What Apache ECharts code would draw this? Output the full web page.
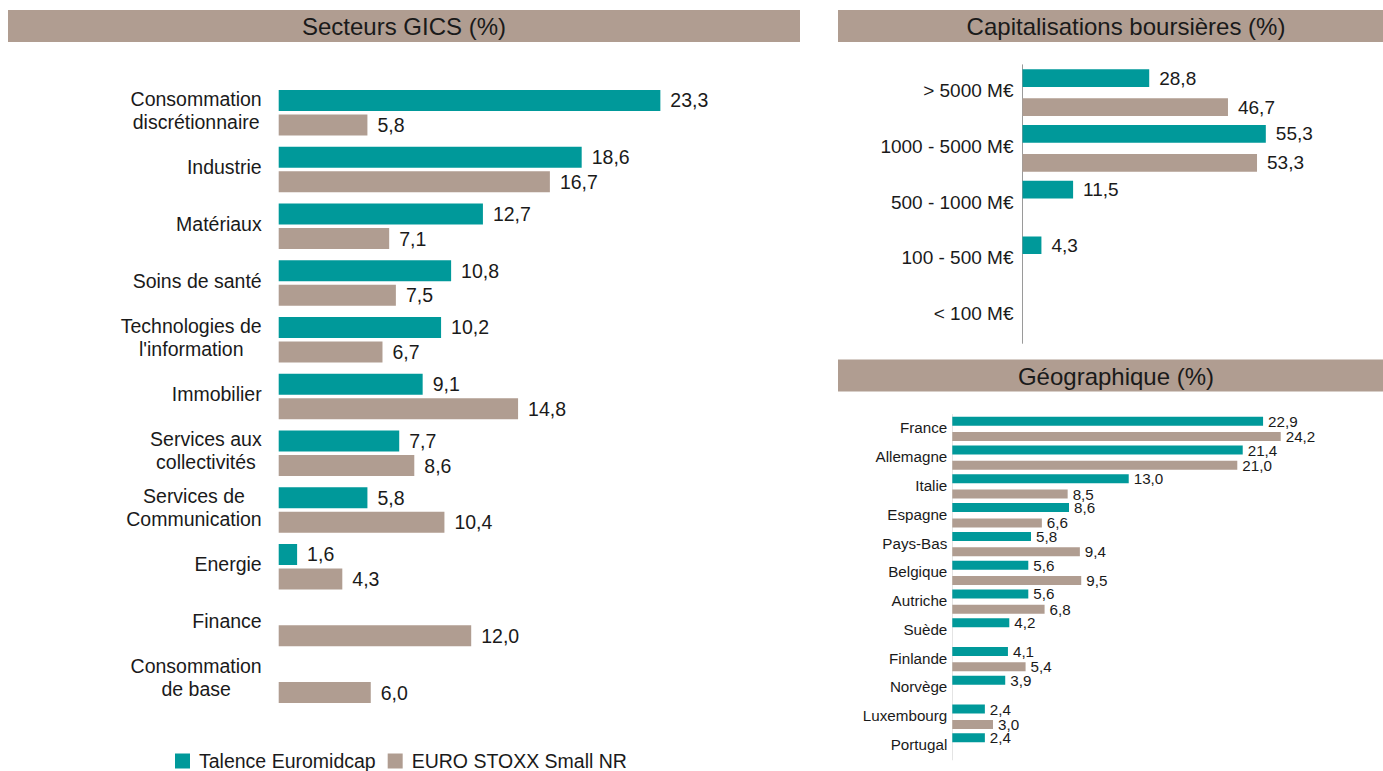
<!DOCTYPE html>
<html><head><meta charset="utf-8">
<script src="https://cdn.jsdelivr.net/npm/echarts@6/dist/echarts.min.js"></script>
<style>html,body{margin:0;padding:0;background:#fff;}#c{width:1383px;height:771px;}</style>
</head><body><div id="c"></div>
<script>
// ---- data ----
const seriesNames = ['Talence Euromidcap', 'EURO STOXX Small NR'];

const sectors = ['Consommation\ndiscrétionnaire', 'Industrie', 'Matériaux', 'Soins de santé',
  "Technologies de\nl'information", 'Immobilier', 'Services aux\ncollectivités',
  'Services de\nCommunication', 'Energie', 'Finance', 'Consommation\nde base'];
const sectorFund  = [23.3, 18.6, 12.7, 10.8, 10.2, 9.1, 7.7, 5.8, 1.6, null, null];
const sectorIndex = [5.8, 16.7, 7.1, 7.5, 6.7, 14.8, 8.6, 10.4, 4.3, 12.0, 6.0];

const caps = ['> 5000 M€', '1000 - 5000 M€', '500 - 1000 M€', '100 - 500 M€', '< 100 M€'];
const capFund  = [28.8, 55.3, 11.5, 4.3, null];
const capIndex = [46.7, 53.3, null, null, null];

const countries = ['France', 'Allemagne', 'Italie', 'Espagne', 'Pays-Bas', 'Belgique', 'Autriche',
  'Suède', 'Finlande', 'Norvège', 'Luxembourg', 'Portugal'];
const geoFund  = [22.9, 21.4, 13.0, 8.6, 5.8, 5.6, 5.6, 4.2, 4.1, 3.9, 2.4, 2.4];
const geoIndex = [24.2, 21.0, 8.5, 6.6, 9.4, 9.5, 6.8, null, 5.4, null, 3.0, null];

const panelTitles = ['Secteurs GICS (%)', 'Capitalisations boursières (%)', 'Géographique (%)'];

// ---- style ----
const TEAL = '#00999A', TAN = '#B09D91', INK = '#1a1a1a';
const FONT = "'Liberation Sans', Arial, sans-serif";
const fmt = p => (p.value == null ? '' : Number(p.value).toFixed(1).replace('.', ','));
function catLabel(v) {
  if (v.indexOf('\n') < 0) return v;
  return v.split('\n').map(s => '{c|' + s + '}').join('\n');
}

function catAxis(grid, data, size, margin, pad, line) {
  return {
    gridIndex: grid, type: 'category', data: data, inverse: true,
    axisLine: line ? { show: true, lineStyle: { color: line, width: 1 } } : { show: false },
    axisTick: { show: false },
    axisLabel: {
      margin: margin, fontSize: size, color: INK, fontFamily: FONT, lineHeight: size * 1.18,
      padding: [0, 0, pad, 0], formatter: catLabel,
      rich: { c: { align: 'center', fontSize: size, color: INK, fontFamily: FONT, lineHeight: size * 1.18 } }
    }
  };
}
function barSeries(name, idx, data, color, bw, gap, size, dist) {
  return {
    type: 'bar', name: name, xAxisIndex: idx, yAxisIndex: idx, data: data,
    barWidth: bw, barGap: gap, itemStyle: { color: color },
    label: { show: true, position: 'right', distance: dist, formatter: fmt,
      fontSize: size, color: INK, fontFamily: FONT }
  };
}
function titleBar(x, y, w, h, cx, text) {
  return [
    { type: 'rect', silent: true, shape: { x: x, y: y, width: w, height: h }, style: { fill: TAN } },
    { type: 'text', silent: true, x: cx, y: y + h / 2 + 0.5,
      style: { text: text, fontSize: 24, fontFamily: FONT, fill: INK, align: 'center', verticalAlign: 'middle' } }
  ];
}

const chart = echarts.init(document.getElementById('c'), null, { renderer: 'svg' });
chart.setOption({
  animation: false,
  backgroundColor: '#fff',
  textStyle: { fontFamily: FONT },
  graphic: [].concat(
    titleBar(8, 10, 792, 32, 404, panelTitles[0]),
    titleBar(838, 10, 545, 32, 1126, panelTitles[1]),
    titleBar(838, 359.5, 545, 32, 1116, panelTitles[2])
  ),
  legend: {
    data: seriesNames, left: 175, top: 751, padding: 0, icon: 'rect',
    itemWidth: 15, itemHeight: 15, itemGap: 12,
    textStyle: { fontSize: 19.5, color: INK, fontFamily: FONT, padding: [0, 0, 0, 4] }
  },
  grid: [
    { left: 278.7, top: 84.4, width: 527.3, height: 624.25 },
    { left: 1022.5, top: 64.8, width: 352, height: 278.5 },
    { left: 952.3, top: 414.5, width: 420.7, height: 345.4 }
  ],
  xAxis: [
    { gridIndex: 0, type: 'value', min: 0.5, max: 32, show: false },
    { gridIndex: 1, type: 'value', min: 0, max: 80, show: false },
    { gridIndex: 2, type: 'value', min: 0, max: 31, show: false }
  ],
  yAxis: [
    catAxis(0, sectors, 19.5, 17, 5, null),
    catAxis(1, caps, 19, 9, 4, '#9a9a9a'),
    catAxis(2, countries, 15.2, 5, 2, '#e4e4e4')
  ],
  series: [
    barSeries(seriesNames[0], 0, sectorFund, TEAL, 21, '17%', 19.5, 10),
    barSeries(seriesNames[1], 0, sectorIndex, TAN, 21, '17%', 19.5, 10),
    barSeries(seriesNames[0], 1, capFund, TEAL, 17.7, '64%', 19, 10),
    barSeries(seriesNames[1], 1, capIndex, TAN, 17.7, '64%', 19, 10),
    barSeries(seriesNames[0], 2, geoFund, TEAL, 9, '70%', 15.2, 5),
    barSeries(seriesNames[1], 2, geoIndex, TAN, 9, '70%', 15.2, 5)
  ]
});
</script></body></html>
